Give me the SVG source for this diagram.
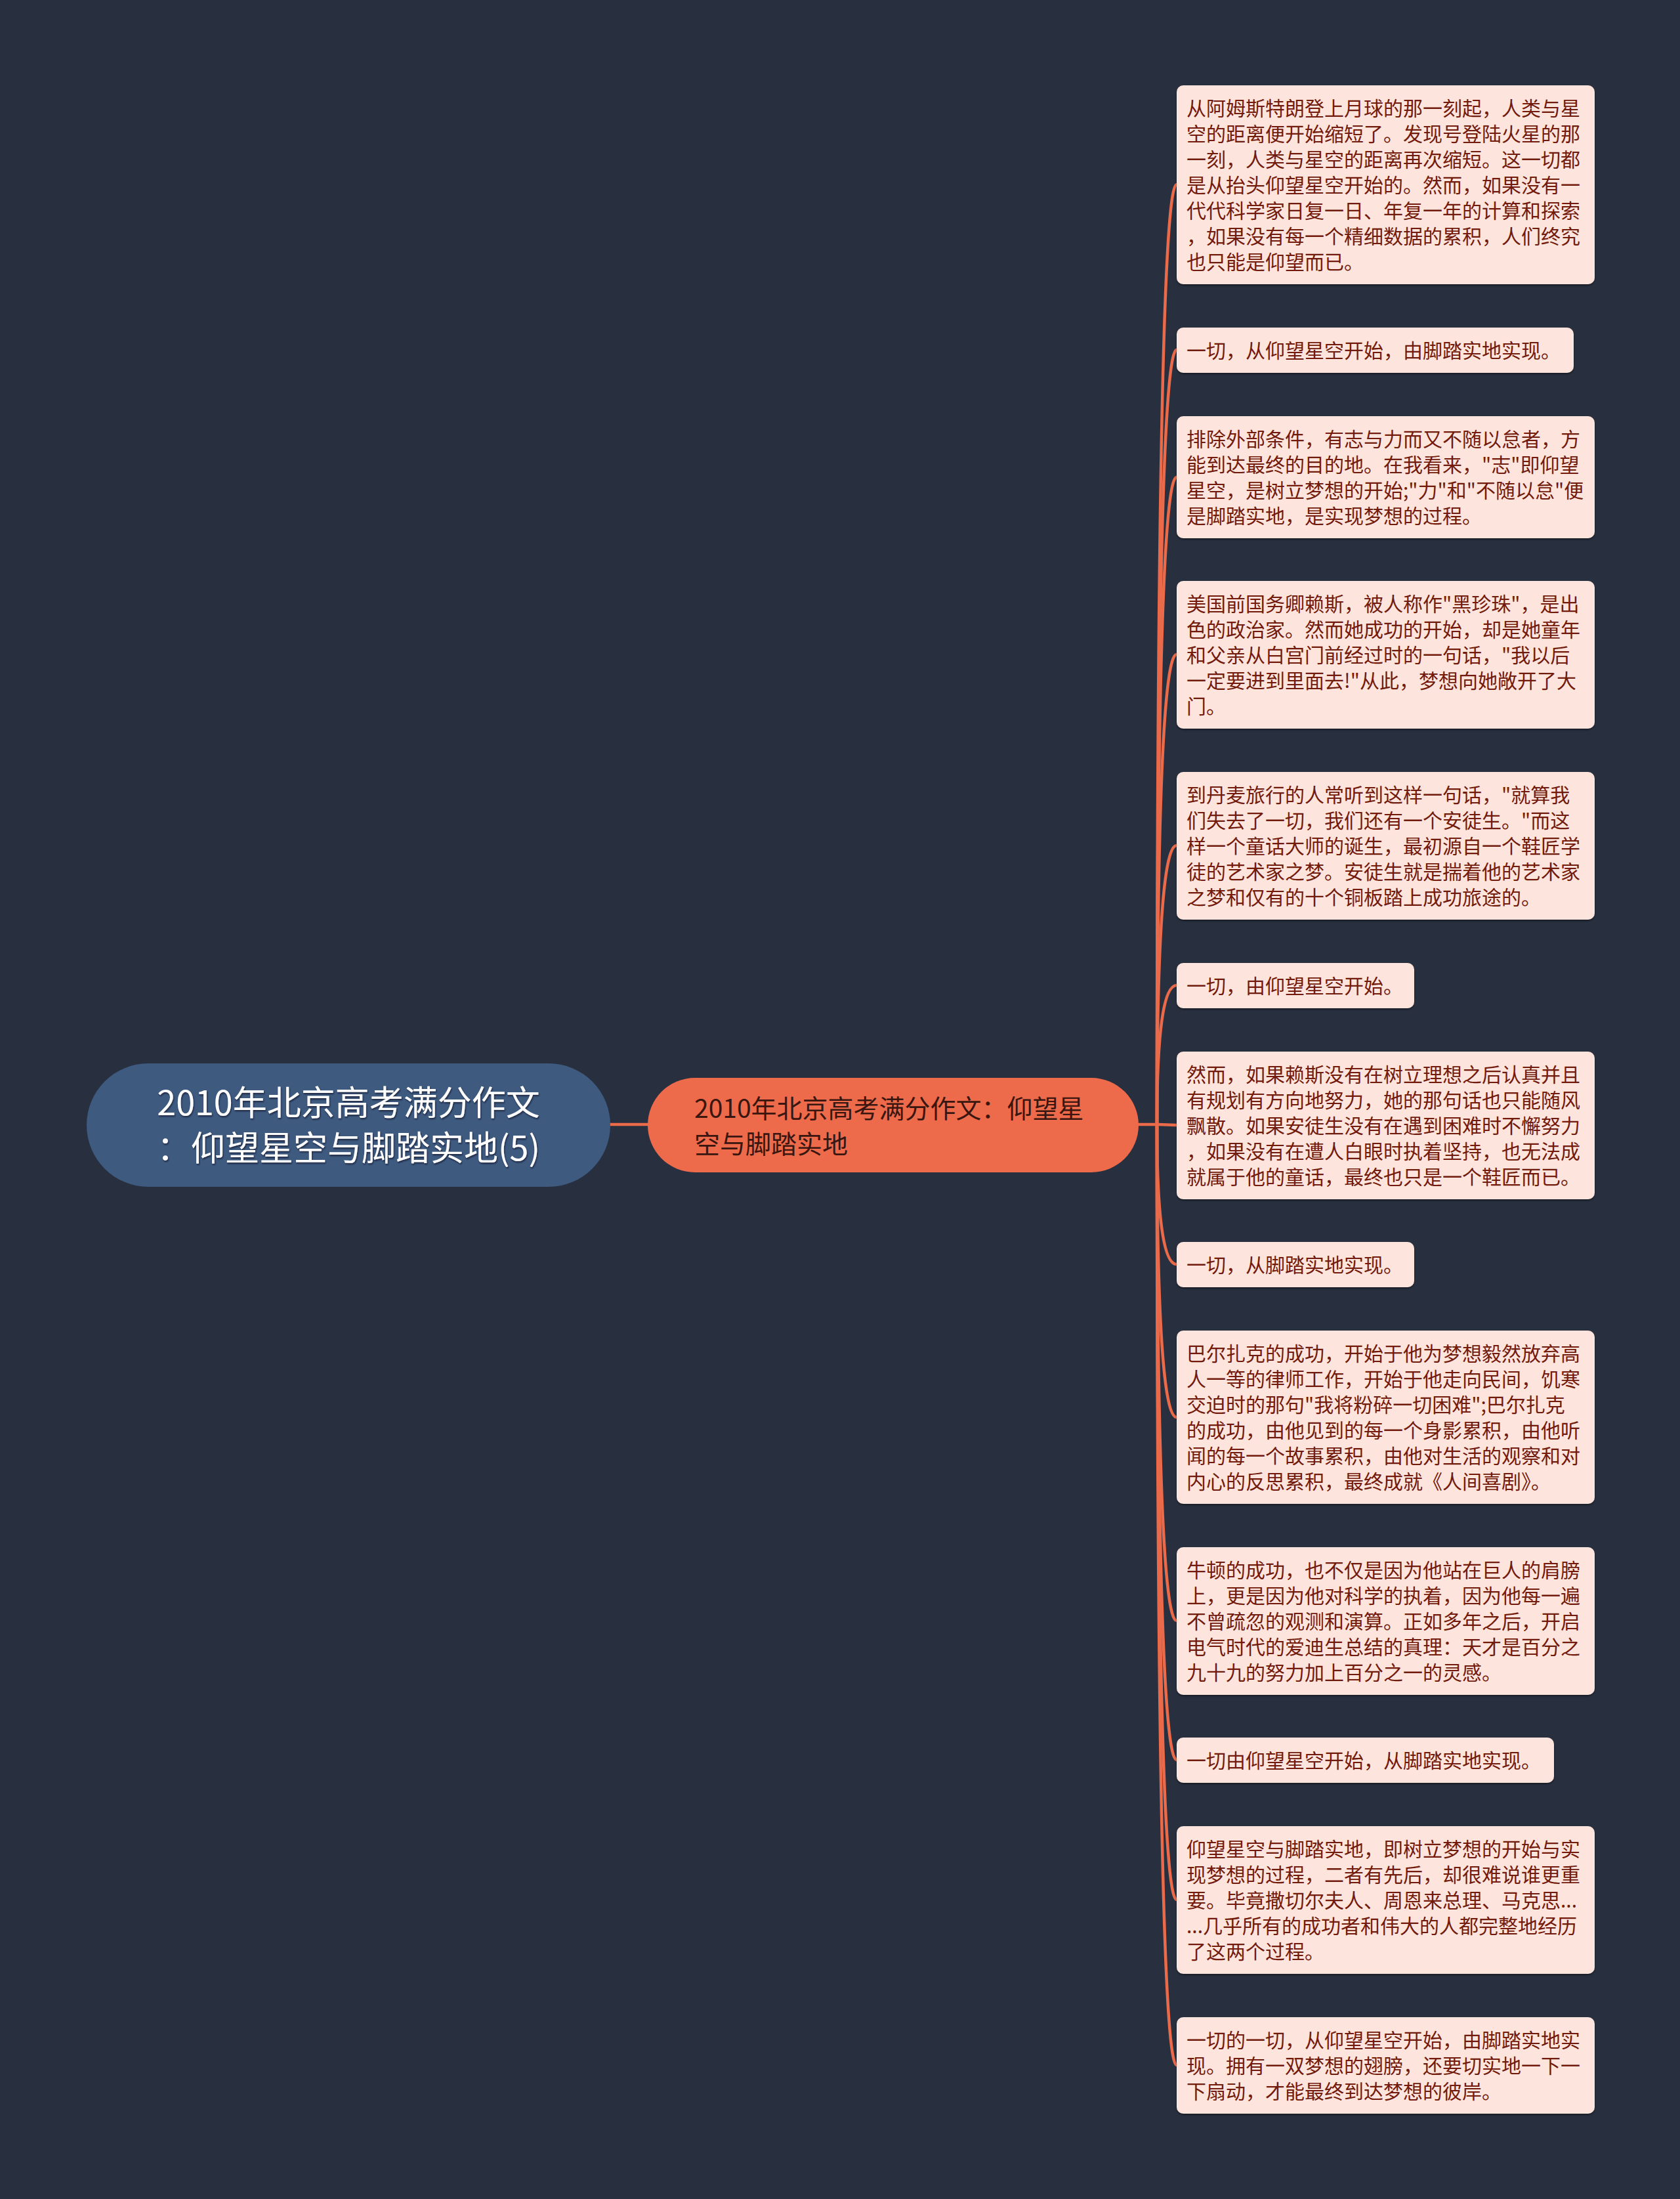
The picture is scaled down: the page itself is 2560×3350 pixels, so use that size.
<svg xmlns="http://www.w3.org/2000/svg" width="2560" height="3350" viewBox="0 0 2560 3350">
<style>
.bg{fill:#283040}
.leaf rect{fill:#fde4dc;filter:url(#sh)}
.leaf text{font-family:"Noto Sans CJK SC","Noto Sans",sans-serif;font-size:30px;fill:#721a0b}
.conn path{fill:none;stroke:#ea6a4a;stroke-width:4.5;stroke-linecap:round}
.root text{font-family:"Noto Sans CJK SC","Noto Sans",sans-serif;font-size:52px;fill:#ffffff;text-anchor:middle;filter:url(#ts)}
.mid text{font-family:"Noto Sans CJK SC","Noto Sans",sans-serif;font-size:39px;fill:#3a1610}
</style>
<defs>
<filter id="sh" x="-5%" y="-10%" width="110%" height="125%">
<feDropShadow dx="0" dy="2" stdDeviation="1.5" flood-color="#000" flood-opacity="0.45"/>
</filter>
<filter id="ts" x="-5%" y="-20%" width="110%" height="140%">
<feDropShadow dx="1" dy="2" stdDeviation="0.8" flood-color="#10182a" flood-opacity="0.7"/>
</filter>
</defs>
<rect class="bg" x="0" y="0" width="2560" height="3350"/>
<g class="conn">
<path d="M930 1713 L987 1713"/>
<path d="M1735 1713 L1763 1713"/>
<path d="M1763 1713 Q1763 281 1793 281"/>
<path d="M1763 1713 Q1763 533 1793 533"/>
<path d="M1763 1713 Q1763 727 1793 727"/>
<path d="M1763 1713 Q1763 997 1793 997"/>
<path d="M1763 1713 Q1763 1288 1793 1288"/>
<path d="M1763 1713 Q1763 1501 1793 1501"/>
<path d="M1763 1713 L1793 1714"/>
<path d="M1763 1713 Q1763 1926 1793 1926"/>
<path d="M1763 1713 Q1763 2159 1793 2159"/>
<path d="M1763 1713 Q1763 2469 1793 2469"/>
<path d="M1763 1713 Q1763 2681 1793 2681"/>
<path d="M1763 1713 Q1763 2894 1793 2894"/>
<path d="M1763 1713 Q1763 3146 1793 3146"/>
</g>
<g id="root" class="root">
<rect x="132" y="1620" width="798" height="188" rx="94" fill="#3e5a7f"/>
<text x="531" y="1699">2010年北京高考满分作文</text>
<text x="531" y="1768">：仰望星空与脚踏实地(5)</text>
</g>
<g id="mid" class="mid">
<rect x="987" y="1642" width="748" height="144" rx="72" fill="#ed6a4b"/>
<text x="1058" y="1703">2010年北京高考满分作文：仰望星</text>
<text x="1058" y="1757">空与脚踏实地</text>
</g>
<g id="n1" class="leaf">
<rect x="1793" y="130" width="637" height="303" rx="10"/>
<text x="1808" y="176"><tspan x="1808">从阿姆斯特朗登上月球的那一刻起，人类与星</tspan><tspan x="1808" dy="39">空的距离便开始缩短了。发现号登陆火星的那</tspan><tspan x="1808" dy="39">一刻，人类与星空的距离再次缩短。这一切都</tspan><tspan x="1808" dy="39">是从抬头仰望星空开始的。然而，如果没有一</tspan><tspan x="1808" dy="39">代代科学家日复一日、年复一年的计算和探索</tspan><tspan x="1808" dy="39">，如果没有每一个精细数据的累积，人们终究</tspan><tspan x="1808" dy="39">也只能是仰望而已。</tspan></text>
</g>
<g id="n2" class="leaf">
<rect x="1793" y="499" width="605" height="69" rx="10"/>
<text x="1808" y="545">一切，从仰望星空开始，由脚踏实地实现。</text>
</g>
<g id="n3" class="leaf">
<rect x="1793" y="634" width="637" height="186" rx="10"/>
<text x="1808" y="680"><tspan x="1808">排除外部条件，有志与力而又不随以怠者，方</tspan><tspan x="1808" dy="39">能到达最终的目的地。在我看来，"志"即仰望</tspan><tspan x="1808" dy="39">星空，是树立梦想的开始;"力"和"不随以怠"便</tspan><tspan x="1808" dy="39">是脚踏实地，是实现梦想的过程。</tspan></text>
</g>
<g id="n4" class="leaf">
<rect x="1793" y="885" width="637" height="225" rx="10"/>
<text x="1808" y="931"><tspan x="1808">美国前国务卿赖斯，被人称作"黑珍珠"，是出</tspan><tspan x="1808" dy="39">色的政治家。然而她成功的开始，却是她童年</tspan><tspan x="1808" dy="39">和父亲从白宫门前经过时的一句话，"我以后</tspan><tspan x="1808" dy="39">一定要进到里面去!"从此，梦想向她敞开了大</tspan><tspan x="1808" dy="39">门。</tspan></text>
</g>
<g id="n5" class="leaf">
<rect x="1793" y="1176" width="637" height="225" rx="10"/>
<text x="1808" y="1222"><tspan x="1808">到丹麦旅行的人常听到这样一句话，"就算我</tspan><tspan x="1808" dy="39">们失去了一切，我们还有一个安徒生。"而这</tspan><tspan x="1808" dy="39">样一个童话大师的诞生，最初源自一个鞋匠学</tspan><tspan x="1808" dy="39">徒的艺术家之梦。安徒生就是揣着他的艺术家</tspan><tspan x="1808" dy="39">之梦和仅有的十个铜板踏上成功旅途的。</tspan></text>
</g>
<g id="n6" class="leaf">
<rect x="1793" y="1467" width="362" height="69" rx="10"/>
<text x="1808" y="1513">一切，由仰望星空开始。</text>
</g>
<g id="n7" class="leaf">
<rect x="1793" y="1602" width="637" height="225" rx="10"/>
<text x="1808" y="1648"><tspan x="1808">然而，如果赖斯没有在树立理想之后认真并且</tspan><tspan x="1808" dy="39">有规划有方向地努力，她的那句话也只能随风</tspan><tspan x="1808" dy="39">飘散。如果安徒生没有在遇到困难时不懈努力</tspan><tspan x="1808" dy="39">，如果没有在遭人白眼时执着坚持，也无法成</tspan><tspan x="1808" dy="39">就属于他的童话，最终也只是一个鞋匠而已。</tspan></text>
</g>
<g id="n8" class="leaf">
<rect x="1793" y="1892" width="362" height="69" rx="10"/>
<text x="1808" y="1938">一切，从脚踏实地实现。</text>
</g>
<g id="n9" class="leaf">
<rect x="1793" y="2027" width="637" height="264" rx="10"/>
<text x="1808" y="2073"><tspan x="1808">巴尔扎克的成功，开始于他为梦想毅然放弃高</tspan><tspan x="1808" dy="39">人一等的律师工作，开始于他走向民间，饥寒</tspan><tspan x="1808" dy="39">交迫时的那句"我将粉碎一切困难";巴尔扎克</tspan><tspan x="1808" dy="39">的成功，由他见到的每一个身影累积，由他听</tspan><tspan x="1808" dy="39">闻的每一个故事累积，由他对生活的观察和对</tspan><tspan x="1808" dy="39">内心的反思累积，最终成就《人间喜剧》。</tspan></text>
</g>
<g id="n10" class="leaf">
<rect x="1793" y="2357" width="637" height="225" rx="10"/>
<text x="1808" y="2403"><tspan x="1808">牛顿的成功，也不仅是因为他站在巨人的肩膀</tspan><tspan x="1808" dy="39">上，更是因为他对科学的执着，因为他每一遍</tspan><tspan x="1808" dy="39">不曾疏忽的观测和演算。正如多年之后，开启</tspan><tspan x="1808" dy="39">电气时代的爱迪生总结的真理：天才是百分之</tspan><tspan x="1808" dy="39">九十九的努力加上百分之一的灵感。</tspan></text>
</g>
<g id="n11" class="leaf">
<rect x="1793" y="2647" width="575" height="69" rx="10"/>
<text x="1808" y="2693">一切由仰望星空开始，从脚踏实地实现。</text>
</g>
<g id="n12" class="leaf">
<rect x="1793" y="2782" width="637" height="225" rx="10"/>
<text x="1808" y="2828"><tspan x="1808">仰望星空与脚踏实地，即树立梦想的开始与实</tspan><tspan x="1808" dy="39">现梦想的过程，二者有先后，却很难说谁更重</tspan><tspan x="1808" dy="39">要。毕竟撒切尔夫人、周恩来总理、马克思...</tspan><tspan x="1808" dy="39">...几乎所有的成功者和伟大的人都完整地经历</tspan><tspan x="1808" dy="39">了这两个过程。</tspan></text>
</g>
<g id="n13" class="leaf">
<rect x="1793" y="3073" width="637" height="147" rx="10"/>
<text x="1808" y="3119"><tspan x="1808">一切的一切，从仰望星空开始，由脚踏实地实</tspan><tspan x="1808" dy="39">现。拥有一双梦想的翅膀，还要切实地一下一</tspan><tspan x="1808" dy="39">下扇动，才能最终到达梦想的彼岸。</tspan></text>
</g>
</svg>
